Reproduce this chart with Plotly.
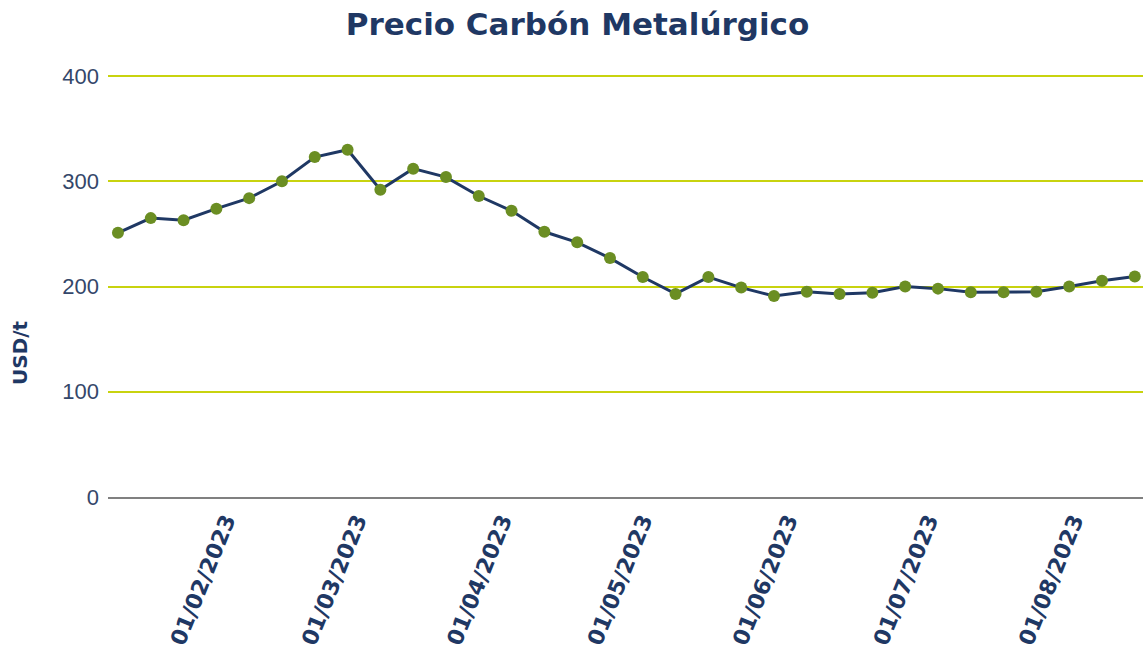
import plotly.graph_objects as go
import pandas as pd

start_date = "2023-01-09"
n_weeks = 32
dates = pd.date_range(start_date, periods=n_weeks, freq="7D")
prices = [251, 265, 263, 274, 284, 300, 323, 330, 292, 312, 304, 286,
          272, 252, 242, 227, 209, 193, 209, 199, 191, 195, 193, 194,
          200, 198, 194.5, 194.5, 195, 200, 205.5, 209.5]
tick_dates = ["2023-02-01", "2023-03-01", "2023-04-01", "2023-05-01",
              "2023-06-01", "2023-07-01", "2023-08-01"]
tick_labels = ["01/02/2023", "01/03/2023", "01/04/2023", "01/05/2023",
               "01/06/2023", "01/07/2023", "01/08/2023"]
y_ticks = [0, 100, 200, 300, 400]

NAVY = "#1F3864"
W, H = 1146, 657
fig = go.Figure()
fig.add_trace(go.Scatter(
    x=dates, y=prices, mode="lines+markers",
    line=dict(color=NAVY, width=3),
    marker=dict(color="#6B8E23", size=12),
    showlegend=False, cliponaxis=False,
))

fig.update_layout(
    width=W, height=H,
    margin=dict(l=108, r=3, t=75, b=160, autoexpand=False),
    paper_bgcolor="white", plot_bgcolor="white",
    title=dict(text="<b>Precio Carbón Metalúrgico</b>", x=577.5 / W, xref="container",
               xanchor="center", y=1 - 24 / H, yanchor="middle", yref="container",
               font=dict(family="DejaVu Sans", size=31, color=NAVY)),
    xaxis=dict(
        range=["2023-01-06 21:00", "2023-08-15 18:00"],
        tickvals=tick_dates, ticktext=tick_labels, tickangle=-68,
        tickfont=dict(family="DejaVu Sans", size=22, color=NAVY, weight="bold"),
        showgrid=False, showline=True, linecolor="#808080", linewidth=2,
        ticks="", zeroline=False, automargin=False,
    ),
    yaxis=dict(
        range=[0, 401], tickvals=y_ticks,
        tickfont=dict(family="Liberation Sans", size=22, color="#34476A"),
        showgrid=True, gridcolor="#C8D30F", gridwidth=1.5,
        zeroline=False, showline=False, ticks="", ticklabelstandoff=8,
        automargin=False,
    ),
    annotations=[dict(
        text="<b>USD/t</b>", textangle=-90, xref="paper", yref="paper",
        x=(20 - 108) / 1035, y=(497 - 353) / 422, xanchor="center", yanchor="middle",
        showarrow=False, font=dict(family="DejaVu Sans", size=20, color=NAVY),
    )],
)

fig.write_html("out.html", config={"displayModeBar": False},
               post_script="document.body.style.margin='0';")
